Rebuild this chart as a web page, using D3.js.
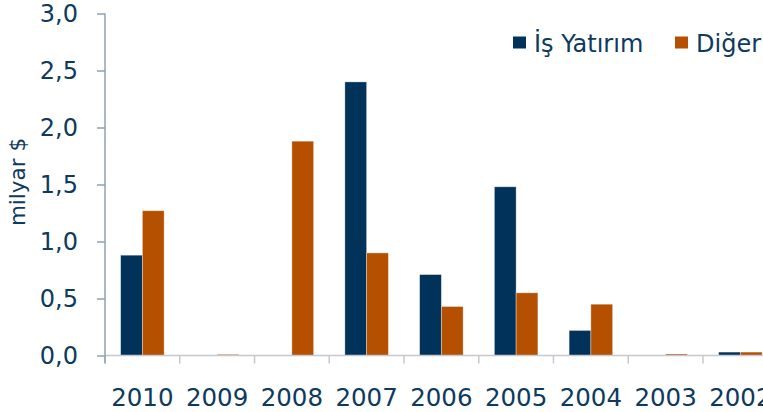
<!DOCTYPE html>
<html><head><meta charset="utf-8">
<script src="https://cdn.jsdelivr.net/npm/d3@7/dist/d3.min.js"></script>
<style>
html,body{margin:0;padding:0;background:#fff;}
svg{display:block;font-family:"DejaVu Sans",Verdana,sans-serif;}
</style></head>
<body>
<svg id="c" width="763" height="412"></svg>
<script>
const categories = ["2010","2009","2008","2007","2006","2005","2004","2003","2002"];
const seriesNames = ["İş Yatırım","Diğer"];
const isYatirim = [0.88, 0, 0, 2.40, 0.71, 1.48, 0.22, 0, 0.03];
const diger = [1.27, 0.01, 1.88, 0.90, 0.43, 0.55, 0.45, 0.013, 0.03];
const yTicks = [0, 0.5, 1.0, 1.5, 2.0, 2.5, 3.0];
const colors = ["#00325A", "#B45000"];
const textColor = "#0E3A5E";

const svg = d3.select("#c");
const x0 = 105, bandW = 74.75;
const x = d3.scaleBand().domain(categories).range([x0, x0 + bandW * categories.length]).padding(0);
const x1 = d3.scaleBand().domain(seriesNames).range([bandW * 0.209, bandW * 0.791]).padding(0);
const y = d3.scaleLinear().domain([0, 3]).range([355.5, 13.5]);

const values = [isYatirim, diger];

// bars
const g = svg.append("g");
categories.forEach((c, i) => {
  seriesNames.forEach((s, j) => {
    const v = values[j][i];
    if (v <= 0) return;
    g.append("rect")
      .attr("x", x(c) + x1(s))
      .attr("y", y(v))
      .attr("width", x1.bandwidth())
      .attr("height", y(0) - y(v))
      .attr("fill", colors[j])
      .attr("stroke", "rgba(255,255,255,0.45)")
      .attr("stroke-width", 0.8);
  });
});

// x axis
const xAxisG = svg.append("g");
xAxisG.append("line").attr("x1", x0).attr("x2", 763).attr("y1", y(0)).attr("y2", y(0))
  .attr("stroke", "#C6C8D0").attr("stroke-width", 1.5);
categories.forEach(c => {
  xAxisG.append("line").attr("x1", x(c)).attr("x2", x(c)).attr("y1", y(0)).attr("y2", y(0) + 8)
    .attr("stroke", "#C6C8D0").attr("stroke-width", 1.5);
  xAxisG.append("text").attr("x", x(c) + x.bandwidth() / 2).attr("y", 406)
    .attr("text-anchor", "middle").attr("fill", textColor).attr("font-size", 24.5)
    .text(c);
});

// y axis
const yAxis = d3.axisLeft(y).tickValues(yTicks).tickSize(8).tickPadding(19)
  .tickFormat(d => d3.format(".1f")(d).replace(".", ","));
const yG = svg.append("g").attr("transform", `translate(${x0},0)`).call(yAxis);
yG.select(".domain").remove();
yG.append("line").attr("x1", 0).attr("x2", 0).attr("y1", y(3)).attr("y2", y(0) + 8)
  .attr("stroke", "#8FA2B5").attr("stroke-width", 1.5);
yG.selectAll(".tick line").attr("stroke", "#8FA2B5").attr("stroke-width", 1.5);
yG.selectAll(".tick text").attr("fill", textColor).attr("font-size", 24)
  .attr("font-family", "'DejaVu Sans',Verdana,sans-serif");

// y title
svg.append("text").attr("transform", "translate(25,182) rotate(-90)")
  .attr("text-anchor", "middle").attr("fill", textColor).attr("font-size", 21.5)
  .text("milyar $");

// legend
const legendX = [513, 675];
seriesNames.forEach((s, j) => {
  svg.append("rect").attr("x", legendX[j]).attr("y", 36.5).attr("width", 13).attr("height", 12)
    .attr("fill", colors[j]);
  svg.append("text").attr("x", legendX[j] + 21).attr("y", 51.5)
    .attr("fill", textColor).attr("font-size", 24).text(s);
});
</script>
</body></html>
